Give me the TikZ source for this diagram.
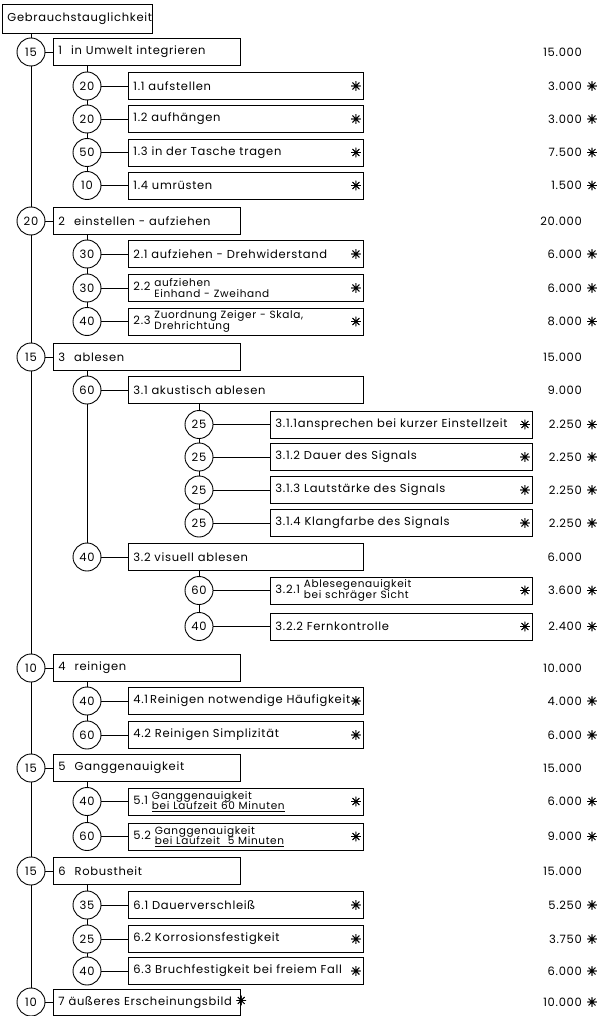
\documentclass[tikz,border=0pt]{standalone}
\usepackage{fontspec}
\setmainfont[LetterSpace=6]{Poppins}
\newfontfamily\symfont[FakeBold=2]{DejaVu Sans}
% two stacked lines, vertically centred on the first-line text
\newcommand\twol[2]{{\fontsize{10.5}{10.5}\selectfont$\vcenter{\baselineskip=10.5pt\lineskiplimit=-6pt\lineskip=0pt\hbox{#1}\hbox{#2}}$}}
\newcommand\markstar{{\symfont\fontsize{13}{13}\selectfont ✳}}
\begin{document}
\begin{tikzpicture}[x=1pt,y=-1pt,
  every node/.style={font=\fontsize{11.5}{13}\selectfont},
  wline/.style={line width=0.9pt},
  circ/.style={draw,circle,wline,minimum size=28pt,inner sep=0pt},
  lbox/.style={draw,wline,rectangle,minimum height=27pt,inner xsep=5pt,inner ysep=0pt,anchor=west,align=left},
  lvA/.style={lbox,text width=177pt},
  lvB/.style={lbox,text width=225pt},
  lvC/.style={lbox,text width=252pt},
  ast/.style={font=\symfont\fontsize{13}{13}\selectfont,inner sep=0pt},
  val/.style={anchor=east,inner sep=0pt},
  conn/.style={wline}]
\useasboundingbox (0,0) rectangle (600,1016);

% root
\node[lbox,text width=140pt,minimum height=29pt] (root) at (2,18.5) {\mbox{Gebrauchstauglichkeit}};

% ---------- level 1 ----------
\node[circ] (c1) at (31,52) {15};
\node[lvA] (b1) at (53,52) {1\hspace{9pt}in Umwelt integrieren};
\node[circ] (c2) at (31,221) {20};
\node[lvA] (b2) at (53,221) {2\hspace{9pt}einstellen - aufziehen};
\node[circ] (c3) at (31,357) {15};
\node[lvA] (b3) at (53,357) {3\hspace{9pt}ablesen};
\node[circ] (c4) at (31,668) {10};
\node[lvA] (b4) at (53,668) {4\hspace{9pt}reinigen};
\node[circ] (c5) at (31,768) {15};
\node[lvA] (b5) at (53,768) {5\hspace{9pt}Ganggenauigkeit};
\node[circ] (c6) at (31,871) {15};
\node[lvA] (b6) at (53,871) {6\hspace{9pt}Robustheit};
\node[circ] (c7) at (31,1002) {10};
\node[lvA,minimum height=26pt] (b7) at (53,1002) {\mbox{7 äußeres Erscheinungsbild \markstar}};

% ---------- level 2 ----------
\node[circ] (c11) at (87,86) {20};
\node[lvB] (b11) at (128,86) {1.1 aufstellen};
\node[circ] (c12) at (87,119) {20};
\node[lvB] (b12) at (128,119) {1.2 aufhängen};
\node[circ] (c13) at (87,152.5) {50};
\node[lvB] (b13) at (128,152.5) {1.3 in der Tasche tragen};
\node[circ] (c14) at (87,185.5) {10};
\node[lvB] (b14) at (128,185.5) {1.4 umrüsten};

\node[circ] (c21) at (87,254) {30};
\node[lvB] (b21) at (128,254) {2.1 aufziehen - Drehwiderstand};
\node[circ] (c22) at (87,288) {30};
\node[lvB] (b22) at (128,288) {2.2 \twol{aufziehen}{Einhand - Zweihand}};
\node[circ] (c23) at (87,321.5) {40};
\node[lvB] (b23) at (128,321.5) {2.3 \twol{Zuordnung Zeiger - Skala,}{Drehrichtung}};

\node[circ] (c31) at (87,390) {60};
\node[lvB] (b31) at (128,390) {3.1 akustisch ablesen};
\node[circ] (c32) at (87,557) {40};
\node[lvB] (b32) at (128,557) {3.2 visuell ablesen};

\node[circ] (c41) at (87,701) {40};
\node[lvB] (b41) at (128,701) {\mbox{4.1\,Reinigen notwendige Häufigkeit}};
\node[circ] (c42) at (87,735) {60};
\node[lvB] (b42) at (128,735) {4.2 Reinigen Simplizität};

\node[circ] (c51) at (87,801.5) {40};
\node[lvB] (b51) at (128,801.5) {5.1 \twol{Ganggenauigkeit}{\underline{bei Laufzeit 60 Minuten}}};
\node[circ] (c52) at (87,836.5) {60};
\node[lvB] (b52) at (128,836.5) {5.2 \twol{Ganggenauigkeit}{\underline{bei Laufzeit\ \ 5 Minuten}}};

\node[circ] (c61) at (87,905) {35};
\node[lvB] (b61) at (128,905) {6.1 Dauerverschleiß};
\node[circ] (c62) at (87,939) {25};
\node[lvB] (b62) at (128,939) {6.2 Korrosionsfestigkeit};
\node[circ] (c63) at (87,971) {40};
\node[lvB] (b63) at (128,971) {\mbox{6.3 Bruchfestigkeit bei freiem Fall}};

% ---------- level 3 ----------
\node[circ] (c311) at (199,424.5) {25};
\node[lvC] (b311) at (270,424.5) {\mbox{3.1.1ansprechen bei kurzer Einstellzeit}};
\node[circ] (c312) at (199,457) {25};
\node[lvC] (b312) at (270,457) {3.1.2 Dauer des Signals};
\node[circ] (c313) at (199,490) {25};
\node[lvC] (b313) at (270,490) {3.1.3 Lautstärke des Signals};
\node[circ] (c314) at (199,523) {25};
\node[lvC] (b314) at (270,523) {3.1.4 Klangfarbe des Signals};
\node[circ] (c321) at (199,590.5) {60};
\node[lvC] (b321) at (270,590.5) {3.2.1 \twol{Ablesegenauigkeit}{bei schräger Sicht}};
\node[circ] (c322) at (199,626.5) {40};
\node[lvC] (b322) at (270,626.5) {3.2.2 Fernkontrolle};

% asterisks inside the leaf boxes
\foreach \n in {11,12,13,14,21,22,23,41,42,51,52,61,62,63,311,312,313,314,321,322}
  \node[ast] (s\n) at ([xshift=-8pt]b\n.east) {✳};

% ---------- connectors ----------
\draw[conn] (root.south -| c1) -- (c1.north);
\foreach \a/\b in {c1/c2,c2/c3,c3/c4,c4/c5,c5/c6,c6/c7,
                   c11/c12,c12/c13,c13/c14,c21/c22,c22/c23,c31/c32,
                   c41/c42,c51/c52,c61/c62,c62/c63,
                   c311/c312,c312/c313,c313/c314,c321/c322}
  \draw[conn] (\a.south) -- (\b.north);
\foreach \p/\c in {b1/c11,b2/c21,b3/c31,b4/c41,b5/c51,b6/c61,b31/c311,b32/c321}
  \draw[conn] (\p.south -| \c) -- (\c.north);
\foreach \n in {1,2,3,4,5,6,7,11,12,13,14,21,22,23,31,32,41,42,51,52,61,62,63,311,312,313,314,321,322}
  \draw[conn] (c\n.east) -- (b\n.west);

% ---------- values ----------
\foreach \n/\y/\v in {1/52/15.000,2/221/20.000,3/357/15.000,31/390/9.000,32/557/6.000,
                      4/668/10.000,5/768/15.000,6/871/15.000}
  \node[val] (v\n) at (582,\y) {\v};
\foreach \n/\y/\v in {11/86/3.000,12/119/3.000,13/152.5/7.500,14/185.5/1.500,
                      21/254/6.000,22/288/6.000,23/321.5/8.000,
                      311/424.5/2.250,312/457/2.250,313/490/2.250,314/523/2.250,
                      321/590.5/3.600,322/626.5/2.400,
                      41/701/4.000,42/735/6.000,51/801.5/6.000,52/836.5/9.000,
                      61/905/5.250,62/939/3.750,63/971/6.000,7/1002/10.000}
{
  \node[val] (v\n) at (582,\y) {\v};
  \node[ast] (w\n) at (592,\y) {✳};
}
\end{tikzpicture}
\end{document}
